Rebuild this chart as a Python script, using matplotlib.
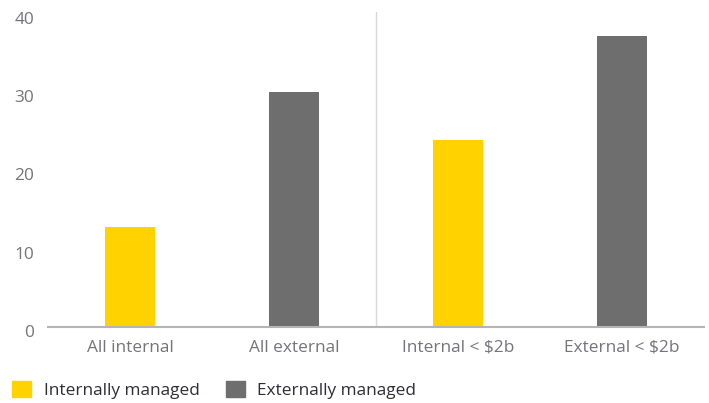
import matplotlib.pyplot as plt
from matplotlib.patches import Patch
from matplotlib.transforms import ScaledTranslation

categories = ['All internal', 'All external', 'Internal < $2b', 'External < $2b']
values = [12.8, 30.0, 23.9, 37.1]
managed = ['internal', 'external', 'internal', 'external']
yticks = [0, 10, 20, 30, 40]

yellow = '#FFD200'
grey = '#6E6E6E'
colors = [yellow if m == 'internal' else grey for m in managed]

plt.rcParams['font.family'] = ['Open Sans', 'DejaVu Sans']

fig = plt.figure(figsize=(7.09, 4.03), dpi=100)
ax = fig.add_axes([48 / 709, 1 - 327 / 403, (704 - 48) / 709, (327 - 12) / 403])

x = list(range(len(categories)))
ax.bar(x, values, width=0.305, color=colors)

ax.set_xlim(-0.5, 3.5)
ax.set_ylim(0, 40.2)
ax.set_xticks(x)
ax.set_xticklabels(categories)
ax.set_yticks(yticks)

# separator between all funds and small funds
ax.axvline(1.5, color='#d9d9d9', linewidth=1)

for s in ['top', 'right', 'left']:
    ax.spines[s].set_visible(False)
ax.spines['bottom'].set_color('#b4b4b4')
ax.spines['bottom'].set_linewidth(1.5)
ax.tick_params(axis='both', length=0, colors='#74747c', labelsize=12.4)
ax.tick_params(axis='x', pad=9)
ax.tick_params(axis='y', pad=10)
shift = ScaledTranslation(0, -3 / 72, fig.dpi_scale_trans)
for lbl in ax.get_yticklabels():
    lbl.set_transform(lbl.get_transform() + shift)

handles = [Patch(color=yellow, label='Internally managed'),
           Patch(color=grey, label='Externally managed')]
fig.legend(handles=handles, loc='lower left', bbox_to_anchor=(12 / 709, 4 / 403),
           ncol=2, frameon=False, fontsize=12.4, handlelength=1.1, handleheight=1.1,
           handletextpad=0.75, columnspacing=1.5, borderpad=0, borderaxespad=0,
           labelcolor='#2e2e38')

fig.savefig('out.png', dpi=100)
